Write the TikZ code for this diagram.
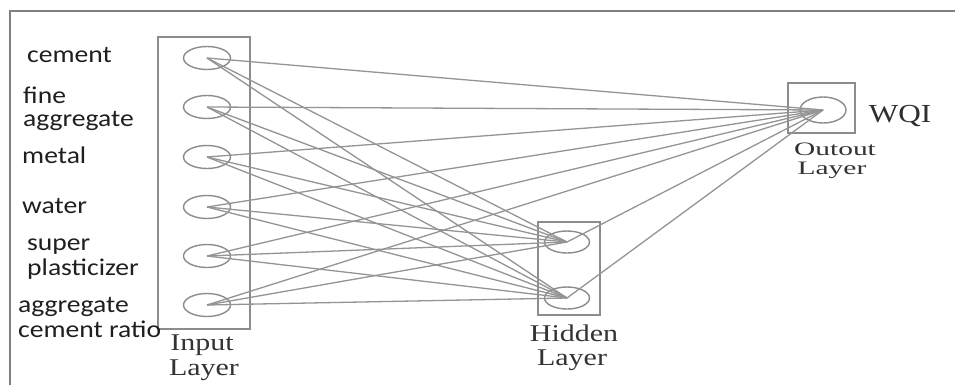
\documentclass[tikz,border=0pt]{standalone}
\usepackage{fontspec}
\usepackage{graphicx}
\setmainfont{Liberation Serif}
\newfontfamily\labelfont{Carlito}
\usetikzlibrary{shapes.geometric}
\newcommand\widetext[2]{\scalebox{#1}[1]{#2}}
\colorlet{framegray}{black!50}
\colorlet{boxgray}{black!45}
\colorlet{linkgray}{black!42}
\colorlet{inkgray}{black!88}
\begin{document}
\begin{tikzpicture}[x=1pt,y=-1pt,
  neuron/.style={ellipse, draw=boxgray, line width=1.4pt, minimum width=47pt,
    minimum height=23pt, inner sep=0pt},
  layerbox/.style={draw=boxgray, line width=1.4pt},
  link/.style={draw=linkgray, line width=1.3pt},
  inlabel/.style={anchor=base west, inner sep=0pt, text=inkgray,
    font=\labelfont\fontsize{24}{24}\selectfont},
  laylabel/.style={anchor=base, inner sep=0pt, text=black!80,
    font=\fontsize{24}{24}\selectfont},
  outlabel/.style={anchor=base, inner sep=0pt, text=black!80,
    font=\fontsize{19}{19}\selectfont}
]
\useasboundingbox (0,0) rectangle (955,385);
\fill[white] (0,0) rectangle (955,385);

% outer frame (top and left edges)
\draw[framegray, line width=2pt] (10,385) -- (10,11) -- (955,11);

% layer boxes
\draw[layerbox] (158,37) rectangle (250,329);
\draw[layerbox] (538,222) rectangle (600,315);
\draw[layerbox] (788,83) rectangle (855,133);

% neurons
\node[neuron] (i1) at (207,58) {};
\node[neuron] (i2) at (207,107) {};
\node[neuron] (i3) at (207,157) {};
\node[neuron] (i4) at (207,207) {};
\node[neuron] (i5) at (207,256) {};
\node[neuron] (i6) at (207,305) {};
\node[neuron, minimum width=45pt, minimum height=22pt] (h1) at (567,242) {};
\node[neuron, minimum width=45pt, minimum height=22pt] (h2) at (567,298) {};
\node[neuron, minimum width=46pt, minimum height=26pt] (o) at (823,110) {};

% connections
\foreach \n in {i1,i2,i3,i4,i5,i6}{
  \draw[link] (\n.center) -- (h1.center);
  \draw[link] (\n.center) -- (h2.center);
  \draw[link] (\n.center) -- (o.center);
}
\draw[link] (h1.center) -- (o.center);
\draw[link] (h2.center) -- (o.center);

% input names
\node[inlabel] (t1) at (27,63) {\widetext{1.15}{cement}};
\node[inlabel] (t2a) at (23,103) {\widetext{1.15}{fine}};
\node[inlabel] (t2b) at (23,127) {\widetext{1.15}{aggregate}};
\node[inlabel] (t3) at (22,163) {\widetext{1.15}{metal}};
\node[inlabel] (t4) at (22,213) {\widetext{1.15}{water}};
\node[inlabel] (t5a) at (27,250) {\widetext{1.15}{super}};
\node[inlabel] (t5b) at (27,275) {\widetext{1.15}{plasticizer}};
\node[inlabel] (t6a) at (18,312) {\widetext{1.15}{aggregate}};
\node[inlabel] (t6b) at (18,337) {\widetext{1.15}{cement ratio}};

% layer names
\node[laylabel] (inA) at (202,350) {\widetext{1.25}{Input}};
\node[laylabel] (inB) at (204,375) {\widetext{1.25}{Layer}};
\node[laylabel] (hidA) at (574,341) {\widetext{1.25}{Hidden}};
\node[laylabel] (hidB) at (572,365) {\widetext{1.25}{Layer}};
\node[outlabel] (outA) at (835,155) {\widetext{1.55}{Outout}};
\node[outlabel] (outB) at (832,174) {\widetext{1.55}{Layer}};
\node[anchor=base, inner sep=0pt, text=black!82, font=\fontsize{26}{26}\selectfont]
  (wqi) at (900,122) {\widetext{1.2}{WQI}};
\end{tikzpicture}
\end{document}
